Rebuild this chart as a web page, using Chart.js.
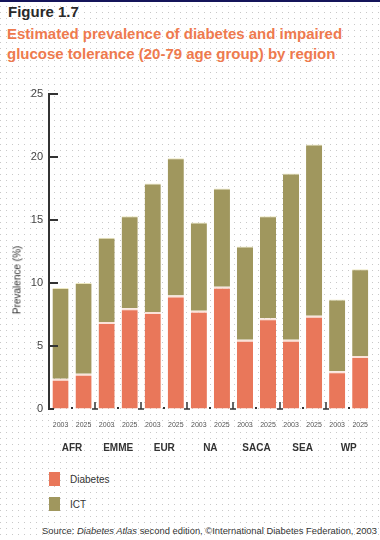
<!DOCTYPE html>
<html><head><meta charset="utf-8">
<script src="https://cdn.jsdelivr.net/npm/chart.js@4"></script>
<style>
html,body{margin:0;padding:0;}
body{width:380px;height:540px;position:relative;overflow:hidden;background-color:#fff;
background-image:url("data:image/svg+xml,%3Csvg xmlns='http://www.w3.org/2000/svg' width='6' height='6'%3E%3Crect width='1' height='1' fill='%23c8c8c8'/%3E%3C/svg%3E");
background-size:6px 6px;font-family:'Liberation Sans',Arial,sans-serif;}
#topbar{position:absolute;left:0;top:0;width:380px;height:2px;background:#14145a;}
#fig{position:absolute;left:8px;top:3px;font-weight:bold;font-size:15px;color:#2a2a2a;}
#sub{position:absolute;left:7px;top:24px;font-weight:bold;font-size:15px;line-height:20px;color:#EE7A4E;white-space:nowrap;}
#wrap{position:absolute;left:0;top:80px;width:380px;height:380px;}
#ytitle{position:absolute;left:17px;top:280px;transform:translate(-50%,-50%) rotate(-90deg);font-size:10px;color:#333;white-space:nowrap;}
#legend{position:absolute;left:49px;top:472px;}
.li{display:flex;align-items:center;height:14px;margin-bottom:11px;font-size:10px;color:#333}
.sw{width:11px;height:14px;margin-right:10px}
#src{position:absolute;left:42px;top:525px;font-size:9.4px;color:#333;white-space:nowrap;}
</style></head>
<body>
<div id="topbar"></div>
<div id="fig">Figure 1.7</div>
<div id="sub">Estimated prevalence of diabetes and impaired<br>glucose tolerance (20-79 age group) by region</div>
<div id="wrap"><canvas id="c" width="380" height="380"></canvas></div>
<div id="ytitle">Prevalence (%)</div>
<div id="legend"></div>
<div id="src">Source: <i>Diabetes Atlas</i> second edition, ©International Diabetes Federation, 2003</div>
<script>
const regions = ['AFR','EMME','EUR','NA','SACA','SEA','WP'];
const years = ['2003','2025'];
const diabetes = [2.4,2.8, 6.9,8.0, 7.7,9.0, 7.8,9.7, 5.5,7.2, 5.5,7.4, 3.0,4.2];
const ict      = [7.2,7.2, 6.7,7.3, 10.2,10.9, 7.0,7.8, 7.4,8.1, 13.2,13.6, 5.7,6.9];
const yTicks = [0,5,10,15,20,25];
const seriesNames = ['Diabetes','ICT'];
const seriesColors = ['#E9775A','#A0975E'];
const seriesEdges = ['#FBE3DA','#EDE8C0'];

const labels = regions.flatMap(() => years);

const axisMarks = {
  id: 'axisMarks',
  afterDatasetsDraw(chart) {
    const {ctx, chartArea: a, scales: {x, y}} = chart;
    ctx.save();
    ctx.strokeStyle = '#333'; ctx.fillStyle = '#333'; ctx.lineWidth = 2;
    yTicks.forEach(v => {
      const py = Math.round(y.getPixelForValue(v));
      ctx.beginPath(); ctx.moveTo(a.left, py); ctx.lineTo(a.left + (v === 0 ? 5 : 9), py); ctx.stroke();
    });
    ctx.lineWidth = 1.5;
    for (let i = 1; i < regions.length; i++) {
      const bx = Math.round((x.getPixelForValue(2*i-1) + x.getPixelForValue(2*i)) / 2);
      ctx.beginPath(); ctx.moveTo(bx, a.bottom - 7); ctx.lineTo(bx, a.bottom); ctx.stroke();
      ctx.beginPath(); ctx.moveTo(bx - 3, a.bottom); ctx.lineTo(bx + 3, a.bottom); ctx.stroke();
    }
    for (let i = 0; i < regions.length; i++) {
      const mx = Math.round((x.getPixelForValue(2*i) + x.getPixelForValue(2*i+1)) / 2);
      ctx.fillRect(mx - 1, a.bottom - 2, 2, 2);
    }
    ctx.restore();
  }
};

const chart = new Chart(document.getElementById('c'), {
  type: 'bar',
  data: {
    labels: labels,
    datasets: [
      {label: seriesNames[0], data: diabetes, backgroundColor: seriesColors[0],
       borderColor: seriesEdges[0], borderWidth: {top: 2, left: 0, right: 0, bottom: 0}, borderSkipped: false},
      {label: seriesNames[1], data: ict, backgroundColor: seriesColors[1],
       borderColor: seriesEdges[1], borderWidth: {top: 1, left: 0, right: 0, bottom: 0}, borderSkipped: false}
    ]
  },
  options: {
    responsive: false,
    animation: false,
    layout: {padding: {top: 14, left: 0, right: 0, bottom: 0}},
    datasets: {bar: {categoryPercentage: 1.0, barPercentage: 0.7}},
    plugins: {legend: {display: false}, tooltip: {enabled: false}},
    scales: {
      x: {
        stacked: true, position: 'bottom', weight: 0,
        grid: {display: false, drawTicks: false},
        border: {display: false},
        ticks: {autoSkip: false, maxRotation: 0, padding: 12, color: '#555',
                font: {family: 'Liberation Sans', size: 7}},
        afterFit: s => { s.height = 21; }
      },
      x2: {
        type: 'category', labels: regions, offset: true, position: 'bottom', weight: 1,
        grid: {display: false, drawTicks: false},
        border: {display: false},
        ticks: {autoSkip: false, maxRotation: 0, padding: 12, color: '#333',
                font: {family: 'Liberation Sans', size: 10, weight: 'bold'}},
        afterFit: s => { s.height = 30; }
      },
      y: {
        stacked: true, min: 0, max: 25,
        afterBuildTicks: s => { s.ticks = yTicks.map(v => ({value: v})); },
        grid: {display: true, drawOnChartArea: false, drawTicks: false},
        border: {display: true, color: '#333', width: 2},
        ticks: {padding: 6, color: '#444', font: {family: 'Liberation Sans', size: 11}},
        afterFit: s => { s.width = 49; }
      }
    }
  },
  plugins: [axisMarks]
});

const leg = document.getElementById('legend');
seriesNames.forEach((n, i) => {
  const d = document.createElement('div'); d.className = 'li';
  const sw = document.createElement('div'); sw.className = 'sw'; sw.style.background = seriesColors[i];
  const t = document.createElement('span'); t.textContent = n;
  d.appendChild(sw); d.appendChild(t); leg.appendChild(d);
});
</script>
</body></html>
